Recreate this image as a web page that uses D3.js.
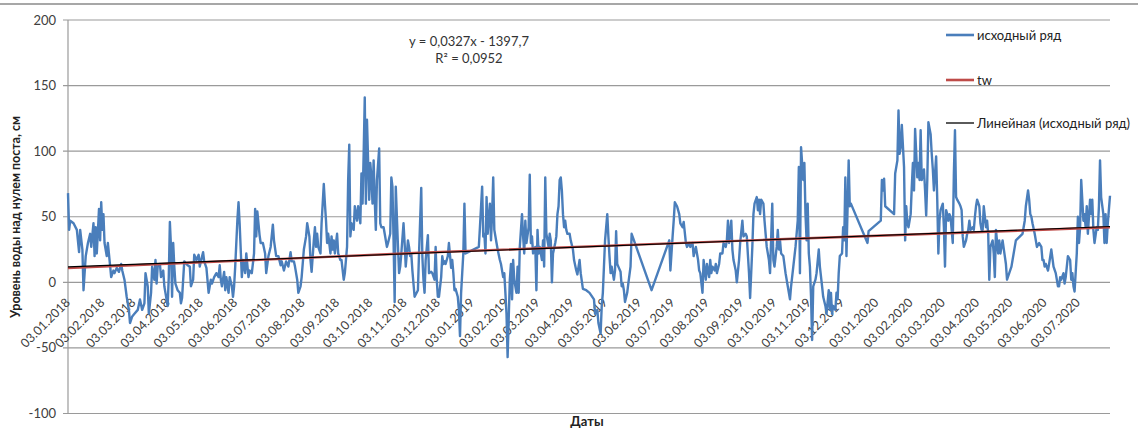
<!DOCTYPE html>
<html>
<head>
<meta charset="utf-8">
<script src="https://cdn.jsdelivr.net/npm/d3@7"></script>
<style>
  body { margin: 0; background: #fff; }
  svg { display: block; }
  text { font-family: Lato, "Open Sans", "DejaVu Sans", sans-serif; }
</style>
</head>
<body>
<svg id="chart" width="1138" height="430"></svg>
<script>
// Dates are Excel serial day numbers; 43103 = 03.01.2018
const startSerial = 43103;
const endSerial = 44044;

// Day offsets from startSerial for each observation
const dayIndex = [
  0,1,2,5,8,10,11,13,14,16,18,20,21,23,24,25,26,28,29,30,31,32,33,35,36,38,39,41,42,44,
  46,48,49,51,53,55,56,58,60,63,65,67,69,70,72,73,75,76,78,79,80,81,83,84,86,87,88,90,91,92,
  93,94,95,96,97,99,101,102,103,105,107,108,110,111,113,114,116,118,119,120,122,123,125,127,129,130,132,134,136,137,
  138,139,141,142,143,145,146,148,149,150,151,153,154,155,
  157,158,160,161,163,164,166,168,169,170,171,173,174,176,178,179,181,183,185,186,188,190,192,193,195,197,199,201,202,204,
  205,207,208,210,211,213,215,216,218,219,220,222,223,224,225,226,228,229,231,232,233,234,235,237,238,239,240,241,243,244,
  246,247,249,250,252,253,254,255,256,258,259,261,262,264,265,266,267,268,269,270,272,273,274,275,276,277,278,279,281,282,
  283,285,286,288,289,291,292,293,294,295,296,298,299,300,301,303,304,305,307,308,309,310,311,313,
  316,317,319,320,321,322,323,325,326,328,329,331,332,333,334,335,337,338,339,340,341,343,344,346,347,348,349,350,352,353,
  354,355,357,358,359,371,372,374,375,376,377,378,379,381,382,383,384,385,387,388,390,391,393,394,395,396,397,399,400,401,
  402,403,405,406,407,408,410,411,412,413,414,416,417,418,419,420,422,423,424,425,426,428,429,430,431,432,434,435,436,437,
  438,440,441,442,443,444,445,446,447,448,449,450,451,453,454,456,457,459,460,462,463,465,468,471,
  475,476,478,479,481,482,483,484,485,487,488,489,490,491,493,494,495,496,497,499,500,501,502,503,505,506,508,509,527,543,
  544,546,547,548,550,552,553,555,556,558,559,561,562,564,565,567,569,570,571,573,574,576,577,579,580,581,582,584,585,586,
  588,589,591,592,594,595,596,597,599,600,601,603,604,606,607,609,610,612,613,615,616,618,619,620,622,623,624,625,626,628,
  629,630,631,633,634,636,
  637,638,640,641,642,643,644,646,648,650,652,653,655,657,659,660,661,662,664,665,666,667,668,669,670,671,672,673,675,676,
  678,679,681,682,684,685,687,688,689,690,691,693,694,695,696,697,699,700,701,702,703,705,706,707,722,723,734,735,736,737,
  738,746,747,749,750,751,752,753,755,756,757,758,759,761,762,763,764,765,767,768,769,770,771,773,774,775,776,777,779,780,
  781,782,784,785,786,787,788,790,791,792,793,
  794,795,796,797,799,800,801,802,803,805,806,807,808,809,811,812,813,814,815,817,818,819,820,821,823,824,825,826,827,829,
  830,831,832,833,835,836,837,838,840,841,842,843,844,846,847,848,850,852,853,855,856,862,864,865,867,868,869,870,871,873,
  874,875,877,879,880,881,882,883,885,886,888,890,892,894,895,896,897,899,900,901,902,903,905,906,907,908,909,911,912,913,
  914,915,917,918,919,920,921,923,924,925,926,927,929,930,931,932,933,935,936,937,938,939,941
];

// Water level above gauge zero, cm ("исходный ряд")
const levelCm = [
  68,40,47,45,40,23,40,25,-6,20,30,37,27,45,20,42,22,56,32,61,40,52,30,20,30,13,4,9,7,11,
  8,14,9,2,-11,-21,-31,-26,-24,-21,-13,-21,-16,7,-3,-24,-8,12,2,17,-1,12,14,4,9,-3,-8,-18,4,46,
  27,-11,30,12,-1,-6,-8,-16,-12,16,14,13,12,-3,2,21,17,21,12,16,23,16,11,-8,2,-1,4,7,4,13,
  2,-3,8,-6,4,-8,4,-3,-11,-3,12,48,61,45,
  4,17,7,22,4,9,7,22,56,35,54,36,30,30,22,7,20,27,44,32,20,20,13,16,9,16,12,23,16,16,
  12,2,-8,-3,4,25,35,45,35,17,8,32,42,27,37,27,22,45,75,60,47,30,37,22,35,25,32,22,37,22,
  17,17,2,7,27,78,105,35,45,40,58,47,58,45,83,60,98,141,60,124,63,91,80,60,93,63,40,78,102,45,
  42,42,37,27,30,37,80,73,32,-15,73,27,7,12,22,45,30,12,32,27,20,22,9,-11,
  -6,22,72,20,2,-8,17,36,7,8,7,2,27,2,-11,-11,4,20,14,16,14,20,30,11,17,7,-6,-5,-11,-21,
  -41,-8,22,60,22,27,42,73,35,37,22,65,37,60,32,52,80,40,30,25,17,14,4,7,-8,-24,-57,2,14,-13,
  17,2,-8,12,-8,27,52,35,22,47,30,42,82,30,35,22,27,-6,40,22,27,17,32,12,80,37,27,37,32,0,
  22,30,35,52,58,78,80,70,52,42,47,40,37,37,32,25,17,9,6,17,7,-5,-6,-8,
  -13,-24,-21,-31,-39,-18,-8,12,32,52,35,20,7,12,2,9,39,14,12,8,-3,-1,-6,-15,-8,-1,12,37,-6,32,
  9,35,47,61,58,52,45,42,46,30,27,30,27,30,20,27,17,9,7,-8,17,2,14,4,17,7,12,9,14,7,
  14,22,22,30,27,32,47,30,47,25,17,9,0,17,30,47,35,37,35,7,-12,27,52,60,65,55,63,52,63,60,
  47,37,27,17,7,60,
  17,12,27,40,25,32,22,20,7,-3,-13,-3,12,27,47,88,7,103,78,91,52,32,60,22,12,-11,-44,-3,2,7,
  25,12,-3,-11,-18,-24,-6,-21,-8,-24,-18,-21,-8,-13,7,20,22,42,32,80,20,93,58,60,30,39,47,78,70,79,
  58,52,83,93,131,98,103,120,88,32,58,45,42,52,73,91,70,117,80,91,78,116,78,86,70,51,78,122,113,98,
  86,70,96,63,22,47,55,60,42,12,55,
  52,47,52,50,30,83,116,65,63,60,58,55,35,27,32,37,40,47,40,42,40,50,58,63,58,45,40,40,58,42,
  47,37,2,27,32,22,4,40,22,32,22,27,32,20,14,2,7,12,17,27,32,37,47,58,70,63,52,50,45,37,
  32,27,30,27,17,17,12,14,9,14,25,12,7,-3,-3,4,2,7,-1,4,12,20,17,2,7,-3,-7,22,50,30,
  42,78,47,52,42,58,37,63,52,63,40,30,42,40,58,93,65,52,30,52,30,45,66
];

// "tw" series
const twDay = [0, 158, 318, 477, 636, 795, 941];
const twLevel = [10.8, 16.6, 22.5, 27.6, 32.6, 37.4, 42.0];

// Linear trend: y = 0,0327x - 1397,7 (x = date serial)
const trendSlope = 0.0327;
const trendIntercept = -1397.7;
const trendLabel = ["y = 0,0327x - 1397,7", "R² = 0,0952"];

const xTickLabels = [
  "03.01.2018","03.02.2018","03.03.2018","03.04.2018","03.05.2018","03.06.2018",
  "03.07.2018","03.08.2018","03.09.2018","03.10.2018","03.11.2018","03.12.2018",
  "03.01.2019","03.02.2019","03.03.2019","03.04.2019","03.05.2019","03.06.2019",
  "03.07.2019","03.08.2019","03.09.2019","03.10.2019","03.11.2019","03.12.2019",
  "03.01.2020","03.02.2020","03.03.2020","03.04.2020","03.05.2020","03.06.2020",
  "03.07.2020"
];
const yTicks = [-100, -50, 0, 50, 100, 150, 200];
const legendNames = ["исходный ряд", "tw", "Линейная (исходный ряд)"];
const yTitle = "Уровень воды над нулем поста, см";
const xTitle = "Даты";

const colors = { series: "#4a7ebb", tw: "#be4b48", trend: "#000000", grid: "#9a9a9a", text: "#404040" };

const excelEpoch = Date.UTC(1899, 11, 30);
const serialToDate = s => new Date(excelEpoch + s * 864e5);
const parseTick = d3.utcParse("%d.%m.%Y");

const svg = d3.select("#chart");
const plot = { left: 68, right: 1110, top: 20, bottom: 413.5 };

const x = d3.scaleUtc()
  .domain([serialToDate(startSerial), serialToDate(endSerial)])
  .range([plot.left, plot.right]);
const y = d3.scaleLinear().domain([-100, 200]).range([plot.bottom, plot.top]);

// frame line across the top
svg.append("line")
  .attr("x1", 0).attr("x2", 1138).attr("y1", 4).attr("y2", 4)
  .attr("stroke", "#8a8a8a").attr("stroke-width", 1.5);

// horizontal gridlines with outward ticks
svg.append("g").selectAll("line").data(yTicks).join("line")
  .attr("x1", plot.left - 5).attr("x2", plot.right)
  .attr("y1", d => y(d)).attr("y2", d => y(d))
  .attr("stroke", colors.grid).attr("stroke-width", 1.2);

// vertical axis line
svg.append("line")
  .attr("x1", plot.left).attr("x2", plot.left)
  .attr("y1", y(200)).attr("y2", y(-100))
  .attr("stroke", colors.grid).attr("stroke-width", 1.2);

// y tick labels
svg.append("g").selectAll("text").data(yTicks).join("text")
  .attr("x", 56).attr("y", d => y(d)).attr("dy", "0.35em")
  .attr("text-anchor", "end").attr("font-size", 13).attr("fill", colors.text)
  .text(d => d);

// x tick labels, rotated
svg.append("g").selectAll("text").data(xTickLabels).join("text")
  .attr("transform", d => `translate(${x(parseTick(d)) + 3},${y(0) + 21}) rotate(-45)`)
  .attr("text-anchor", "end").attr("font-size", 12.5).attr("fill", colors.text)
  .text(d => d);

// source series
const seriesData = dayIndex.map((d, i) => ({ date: serialToDate(startSerial + d), v: levelCm[i] }));
svg.append("path").datum(seriesData)
  .attr("fill", "none").attr("stroke", colors.series).attr("stroke-width", 2.4)
  .attr("stroke-linejoin", "round")
  .attr("d", d3.line().x(d => x(d.date)).y(d => y(d.v)));

// tw series
const twData = twDay.map((d, i) => ({ date: serialToDate(startSerial + d), v: twLevel[i] }));
svg.append("path").datum(twData)
  .attr("fill", "none").attr("stroke", colors.tw).attr("stroke-width", 2.4)
  .attr("d", d3.line().x(d => x(d.date)).y(d => y(d.v)));

// linear trend from the fitted equation
const trendData = [startSerial, endSerial].map(s => ({ date: serialToDate(s), v: trendSlope * s + trendIntercept }));
svg.append("path").datum(trendData)
  .attr("fill", "none").attr("stroke", colors.trend).attr("stroke-width", 1.1)
  .attr("d", d3.line().x(d => x(d.date)).y(d => y(d.v)));

// equation label
svg.append("g").selectAll("text").data(trendLabel).join("text")
  .attr("x", 469).attr("y", (d, i) => 46 + i * 17)
  .attr("text-anchor", "middle").attr("font-size", 13).attr("fill", "#333")
  .text(d => d);

// legend
const legendY = [35, 80, 123];
const legendColor = [colors.series, colors.tw, colors.trend];
const legendWidth = [2.6, 2.6, 1.3];
const lg = svg.append("g").selectAll("g").data(legendNames).join("g")
  .attr("transform", (d, i) => `translate(946,${legendY[i]})`);
lg.append("line").attr("x1", 0).attr("x2", 28).attr("y1", 0).attr("y2", 0)
  .attr("stroke", (d, i) => legendColor[i]).attr("stroke-width", (d, i) => legendWidth[i]);
lg.append("text").attr("x", 31).attr("dy", "0.35em")
  .attr("font-size", 13).attr("fill", "#222").text(d => d);

// axis titles
svg.append("text")
  .attr("transform", "translate(16,217) rotate(-90)").attr("dy", "0.35em")
  .attr("text-anchor", "middle").attr("font-size", 12.5).attr("font-weight", "bold").attr("fill", "#222")
  .text(yTitle);
svg.append("text")
  .attr("x", 587).attr("y", 421).attr("dy", "0.35em")
  .attr("text-anchor", "middle").attr("font-size", 13).attr("font-weight", "bold").attr("fill", "#222")
  .text(xTitle);
</script>
</body>
</html>
